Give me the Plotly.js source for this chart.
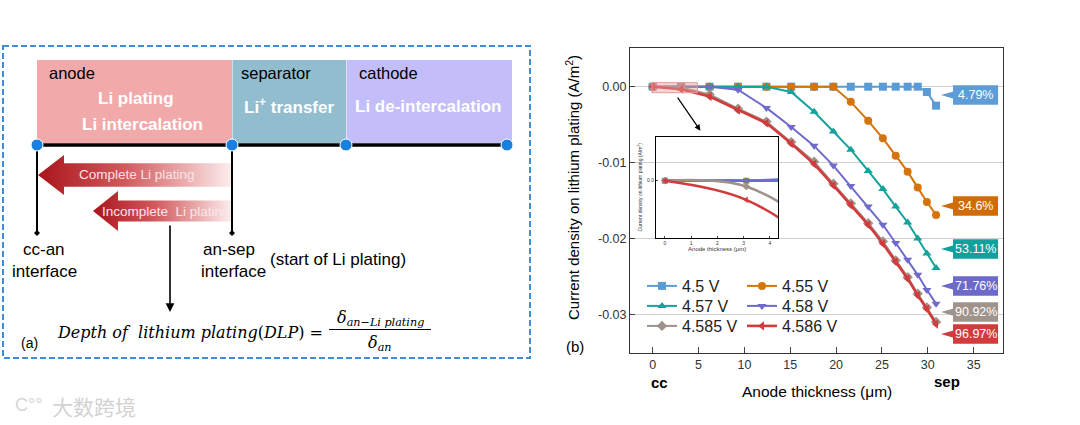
<!DOCTYPE html>
<html>
<head>
<meta charset="utf-8">
<script src="https://cdn.plot.ly/plotly-3.0.1.min.js"></script>
<style>html,body{margin:0;padding:0;background:#fff;}#chart{width:1080px;height:425px;}</style>
</head>
<body>
<div id="chart"></div>
<script>
// ---------- data ----------
const thickness = [0, 3.1, 6.2, 9.3, 12.4, 15.1, 17.6, 19.7, 21.6, 23.5, 25.1, 26.5, 27.8, 28.9, 29.9, 30.9];
const v4500 = [0, 0, 0, 0, 0, 0, 0, 0, 0, 0, 0, 0, 0, 0, -0.0007, -0.0025];
const v4550 = [0, 0, 0, 0, 0, 0, 0, 0, -0.0020, -0.0045, -0.0068, -0.0091, -0.0112, -0.0133, -0.0152, -0.0169];
const v4570 = [0, 0, 0, 0, 0, -0.0007, -0.0033, -0.0059, -0.0083, -0.0111, -0.0135, -0.0158, -0.0179, -0.0200, -0.0220, -0.0239];
const v4580 = [0, 0, 0, -0.0004, -0.0028, -0.0053, -0.0078, -0.0104, -0.0131, -0.0158, -0.0182, -0.0206, -0.0228, -0.0248, -0.0268, -0.0286];
const v4585 = [0, -0.0001, -0.00102, -0.0029, -0.0046, -0.0073, -0.0099, -0.0128, -0.0154, -0.0180, -0.0204, -0.0229, -0.0251, -0.0273, -0.0291, -0.0310];
const v4586 = [0, -0.00033, -0.0013, -0.0031, -0.0048, -0.0075, -0.0102, -0.0130, -0.0156, -0.0182, -0.0207, -0.0231, -0.0253, -0.0275, -0.0293, -0.0313];
const seriesNames = ['4.5 V', '4.55 V', '4.57 V', '4.58 V', '4.585 V', '4.586 V'];
const dlpLabels = ['4.79%', '34.6%', '53.11%', '71.76%', '90.92%', '96.97%'];
const xTickVals = [0, 5, 10, 15, 20, 25, 30, 35];
const yTickVals = [0, -0.01, -0.02, -0.03];
const yTickText = ['0.00', '-0.01', '-0.02', '-0.03'];
const insetXTicks = [0, 1, 2, 3, 4];

// ---------- styles ----------
const seriesValues = [v4500, v4550, v4570, v4580, v4585, v4586];
const colors = ['#5b9bd5', '#d4740a', '#16a29c', '#6f6acb', '#a09189', '#d33a3c'];
const boxColors = ['#5d9cd6', '#cf6c06', '#12a09a', '#6d69cb', '#9f938b', '#d23a3b'];
const symbols = ['square', 'circle', 'triangle-up', 'triangle-down', 'diamond', 'triangle-left'];
const legendIds = ['legend', 'legend2', 'legend3', 'legend4', 'legend5', 'legend6'];
const legendPos = [[642, 269], [742, 269], [642, 289], [742, 289], [642, 309], [742, 309]];
const labelY = [-0.0011, -0.01572, -0.02139, -0.02627, -0.0297, -0.0326];
const SANS = 'Liberation Sans, Arial, sans-serif';

const W = 1080, H = 425;
const traces = [];
seriesValues.forEach((vals, i) => {
  traces.push({
    x: thickness, y: vals, type: 'scatter', mode: 'lines+markers', name: seriesNames[i],
    line: {color: colors[i], width: i === 5 ? 2.6 : 2},
    marker: {symbol: symbols[i], size: 8, color: colors[i]},
    legend: legendIds[i], xaxis: 'x', yaxis: 'y', cliponaxis: false
  });
});
// inset: same data, zoomed
seriesValues.forEach((vals, i) => {
  traces.push({
    x: thickness, y: vals, type: 'scatter', mode: 'lines+markers', showlegend: false,
    line: {color: colors[i], width: 2.5, shape: 'spline'},
    marker: {symbol: symbols[i], size: 6, color: colors[i]},
    xaxis: 'x2', yaxis: 'y2', hoverinfo: 'skip'
  });
});

// ---------- schematic (a): gradient arrows in pixel canvas axes ----------
function arrowPoly(tipX, bodyEnd, cy, headLen, bodyHalf, headHalf) {
  const hb = tipX + headLen;
  return {
    x: [tipX, hb, hb, bodyEnd, bodyEnd, hb, hb, tipX],
    y: [cy, cy - headHalf, cy - bodyHalf, cy - bodyHalf, cy + bodyHalf, cy + bodyHalf, cy + headHalf, cy]
  };
}
const grad = {type: 'horizontal', colorscale: [[0, '#a9141b'], [0.45, '#d25a5e'], [1, '#fdeeee']]};
[arrowPoly(38, 232, 175, 26, 11.7, 20), arrowPoly(93, 232, 211, 25, 10.5, 20)].forEach(p => {
  traces.push({x: p.x, y: p.y, type: 'scatter', mode: 'lines', fill: 'toself', fillgradient: grad,
    line: {width: 0, color: 'rgba(0,0,0,0)'}, xaxis: 'x3', yaxis: 'y3', showlegend: false, hoverinfo: 'skip'});
});

const shapes = [];
const annotations = [];
function rect(x0, y0, x1, y1, fill, line) {
  shapes.push({type: 'rect', xref: 'x3', yref: 'y3', x0, y0, x1, y1, fillcolor: fill, line: line || {width: 0}, layer: 'below'});
}
function seg(x0, y0, x1, y1, w, c) {
  shapes.push({type: 'line', xref: 'x3', yref: 'y3', x0, y0, x1, y1, line: {color: c || '#000', width: w}, layer: 'above'});
}
function txt(x, y, text, size, opts) {
  annotations.push(Object.assign({xref: 'x3', yref: 'y3', x, y, text, showarrow: false,
    font: {family: SANS, size, color: '#000'}, xanchor: 'center', yanchor: 'middle'}, opts || {}));
}
// dashed frame
rect(3, 46, 530, 358, 'rgba(0,0,0,0)', {color: '#3d8ed6', width: 2, dash: '6px,3px'});
// regions
rect(37, 60, 232, 143, '#f2a9a9');
rect(232.5, 60, 346, 143, '#91bdcf');
rect(346.5, 60, 512, 143, '#c3bef9');
seg(37, 145, 507, 145, 3.5);
seg(37, 145, 37, 233, 2);
seg(232, 145, 232, 233, 2);
[[37, 233], [232, 233]].forEach(([x, y]) => {
  shapes.push({type: 'path', xref: 'x3', yref: 'y3', path: `M${x},${y - 3} L${x + 3},${y} L${x},${y + 3} L${x - 3},${y} Z`, fillcolor: '#000', line: {width: 0}});
});
[37, 232, 346, 507].forEach(x => {
  shapes.push({type: 'circle', xref: 'x3', yref: 'y3', x0: x - 6, x1: x + 6, y0: 139, y1: 151, fillcolor: '#1a80dd', line: {color: '#ffffff', width: 1}});
});
// texts
txt(47, 73, 'anode', 16.5, {xanchor: 'left'});
txt(239, 73, 'separator', 16.5, {xanchor: 'left'});
txt(357, 73, 'cathode', 16.5, {xanchor: 'left'});
const wb = {family: SANS, size: 17, color: '#ffffff'};
txt(136, 98, '<b>Li plating</b>', 17, {font: wb});
txt(142, 124, '<b>Li intercalation</b>', 17, {font: wb});
txt(289, 106, '<b>Li<sup>+</sup> transfer</b>', 17, {font: wb});
txt(428, 106, '<b>Li de-intercalation</b>', 17, {font: wb});
txt(137, 174.5, 'Complete Li plating', 13.5, {font: {family: SANS, size: 13.5, color: '#fbe2e2'}});
txt(166, 211, 'Incomplete  Li plating', 13.5, {font: {family: SANS, size: 13.5, color: '#fbe6e6'}});
txt(44, 249, 'cc-an', 17);
txt(44, 271, 'interface', 17);
txt(229, 249, 'an-sep', 17);
txt(233, 271, 'interface', 17);
txt(268, 259, '(start of Li plating)', 17, {xanchor: 'left'});
txt(29, 343, '(a)', 14);
// arrow to the formula
annotations.push({xref: 'x3', yref: 'y3', axref: 'x3', ayref: 'y3', x: 170, y: 312, ax: 170, ay: 224,
  showarrow: true, arrowhead: 2, arrowsize: 1.1, arrowwidth: 1.6, arrowcolor: '#000', text: ''});
const SERIF = 'DejaVu Serif, Liberation Serif, serif';
txt(325, 332, '<i>Depth of  lithium plating</i>(<i>DLP</i>) =', 16, {xanchor: 'right', font: {family: SERIF, size: 16, color: '#000'}});
txt(380, 318, '<i>δ<sub>an−Li plating</sub></i>', 16, {font: {family: SERIF, size: 16, color: '#000'}});
txt(380, 343, '<i>δ<sub>an</sub></i>', 16, {font: {family: SERIF, size: 16, color: '#000'}});
seg(329, 329.5, 431, 329.5, 1);
// watermark
txt(94, 406, '大数跨境', 21, {font: {family: 'Noto Sans CJK SC', size: 21, color: '#d2d2d2'}});
txt(28, 405, 'C°°', 18, {font: {family: SANS, size: 18, color: '#d6d6d6'}});

// ---------- chart (b) decorations ----------
txt(572, 188, 'Current density on lithium plating (A/m<sup>2</sup>)', 15, {textangle: -90});
txt(575, 346, '(b)', 15);
txt(659, 382, '<b>cc</b>', 15);
txt(947, 381, '<b>sep</b>', 15);
txt(817, 391, 'Anode thickness (μm)', 15.5);

// DLP callout labels on the right of the plot (data coords)
const boxX0 = 32.75, boxX1 = 37.66, tipX = 31.44, halfH = 0.00128, triH = 0.00048;
dlpLabels.forEach((lab, i) => {
  const yc = labelY[i];
  shapes.push({type: 'rect', xref: 'x', yref: 'y', x0: boxX0, x1: boxX1, y0: yc - halfH, y1: yc + halfH, fillcolor: boxColors[i], line: {width: 0}, layer: 'above'});
  shapes.push({type: 'path', xref: 'x', yref: 'y', path: `M${tipX},${yc} L${boxX0 + 0.05},${yc + triH} L${boxX0 + 0.05},${yc - triH} Z`, fillcolor: boxColors[i], line: {width: 0}, layer: 'above'});
  annotations.push({xref: 'x', yref: 'y', x: (boxX0 + boxX1) / 2, y: yc, text: lab, showarrow: false,
    font: {family: SANS, size: 12.5, color: '#ffffff'}, xanchor: 'center', yanchor: 'middle'});
});
// highlight box near the current collector + arrow to the inset
shapes.push({type: 'rect', xref: 'x', yref: 'y', x0: -0.1, x1: 4.87, y0: -0.00079, y1: 0.00053,
  fillcolor: 'rgba(236,160,160,0.45)', line: {color: '#e39a9a', width: 1}, layer: 'above'});
annotations.push({xref: 'x', yref: 'y', axref: 'x', ayref: 'y', x: 5.2, y: -0.0058, ax: 2.6, ay: -0.00125,
  showarrow: true, arrowhead: 2, arrowsize: 1, arrowwidth: 1.2, arrowcolor: '#000', text: ''});

const px2fx = p => p / W, py2fy = p => 1 - p / H;

const layout = {
  width: W, height: H,
  margin: {l: 0, r: 0, t: 0, b: 0},
  paper_bgcolor: '#ffffff', plot_bgcolor: 'rgba(0,0,0,0)',
  font: {family: SANS, color: '#222'},
  showlegend: true,
  xaxis: {domain: [px2fx(630), px2fx(1003)], range: [-2.48, 38.2], tickvals: xTickVals,
    ticks: 'inside', ticklen: 6, tickcolor: '#444', showgrid: false, zeroline: false,
    showline: true, mirror: true, linecolor: '#333', linewidth: 1,
    tickfont: {family: SANS, size: 12.5, color: '#333'}, anchor: 'y', fixedrange: true},
  yaxis: {domain: [py2fy(353), py2fy(48)], range: [-0.0351, 0.0051], tickvals: yTickVals, ticktext: yTickText,
    ticks: 'inside', ticklen: 5, tickcolor: '#444', showgrid: true, gridcolor: '#cfcfcf', gridwidth: 1, zeroline: false,
    showline: true, mirror: true, linecolor: '#333', linewidth: 1,
    tickfont: {family: SANS, size: 12.5, color: '#333'}, anchor: 'x', fixedrange: true},
  xaxis2: {domain: [px2fx(656), px2fx(778.3)], range: [-0.34, 4.32], tickvals: insetXTicks,
    ticks: 'inside', ticklen: 2, showgrid: false, zeroline: false, showline: true, mirror: true,
    linecolor: '#000', linewidth: 1, tickfont: {family: SANS, size: 5, color: '#333'}, anchor: 'y2',
    title: {text: 'Anode thickness (μm)', font: {family: SANS, size: 6, color: '#333'}, standoff: 2}, fixedrange: true},
  yaxis2: {domain: [py2fy(237.7), py2fy(136.7)], range: [-0.00098, 0.000755], tickvals: [0], ticktext: ['0.0'],
    ticks: 'inside', ticklen: 2, showgrid: false, zeroline: false, showline: true, mirror: true,
    linecolor: '#000', linewidth: 1, tickfont: {family: SANS, size: 5, color: '#333'}, anchor: 'x2',
    title: {text: 'Current density on lithium plating (A/m<sup>2</sup>)', font: {family: SANS, size: 5, color: '#333'}, standoff: 4}, fixedrange: true},
  xaxis3: {domain: [0, 1], range: [0, W], visible: false, fixedrange: true, anchor: 'y3'},
  yaxis3: {domain: [0, 1], range: [H, 0], visible: false, fixedrange: true, anchor: 'x3'},
  shapes, annotations
};
legendIds.forEach((id, i) => {
  layout[id] = {x: px2fx(legendPos[i][0]), y: py2fy(legendPos[i][1]), xanchor: 'left', yanchor: 'top',
    bgcolor: 'rgba(0,0,0,0)', font: {family: SANS, size: 16, color: '#222'}};
});

Plotly.newPlot('chart', traces, layout, {displayModeBar: false, staticPlot: true});
</script>
</body>
</html>
